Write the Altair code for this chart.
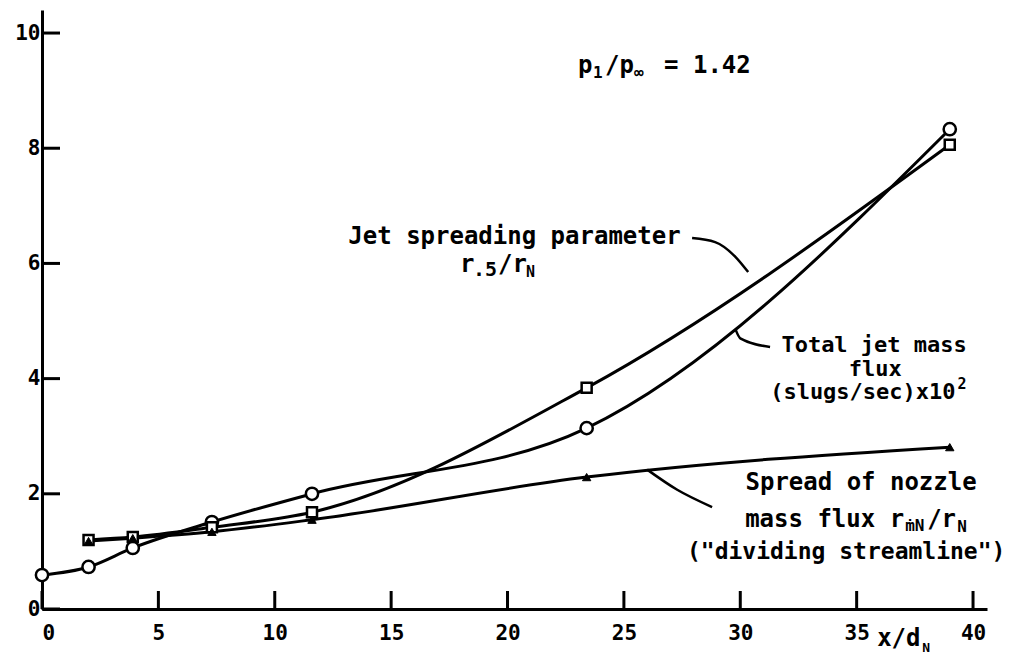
import altair as alt
import pandas as pd

# ---- data ----
circle_x = [0, 2, 3.9, 7.3, 11.6, 23.4, 39]           # total jet mass flux
circle_y = [0.59, 0.73, 1.06, 1.51, 2.0, 3.14, 8.33]
square_x = [2, 3.9, 7.3, 11.6, 23.4, 39]               # jet spreading parameter
square_y = [1.2, 1.25, 1.42, 1.68, 3.84, 8.06]
tri_x = [2, 3.9, 7.3, 11.6, 23.4, 39]                  # spread of nozzle mass flux
tri_y = [1.18, 1.23, 1.34, 1.55, 2.29, 2.81]
x_ticks = [0, 5, 10, 15, 20, 25, 30, 35, 40]
y_ticks = [0, 2, 4, 6, 8, 10]

# leader lines of the annotations
lead1_x = [27.93, 28.92, 29.78, 30.34]
lead1_y = [6.44, 6.37, 6.12, 5.85]
lead2_x = [29.8, 30.0, 31.28]
lead2_y = [4.85, 4.70, 4.55]
lead3_x = [26.0, 27.29, 28.79]
lead3_y = [2.42, 2.07, 1.77]

W, H = 945, 599
FONT = "DejaVu Sans Mono"
xscale = alt.Scale(domain=[0, 40.6], nice=False, zero=False)
yscale = alt.Scale(domain=[0, 10.4], nice=False, zero=False)

X = alt.X("x:Q", scale=xscale, title=None, axis=alt.Axis(values=x_ticks, format="d"))
Y = alt.Y("y:Q", scale=yscale, title=None, axis=alt.Axis(values=y_ticks, format="d"))

lines_df = pd.concat([
    pd.DataFrame({"x": circle_x, "y": circle_y, "s": "mass"}),
    pd.DataFrame({"x": square_x, "y": square_y, "s": "spread"}),
    pd.DataFrame({"x": tri_x, "y": tri_y, "s": "nozzle"}),
])

lines = alt.Chart(lines_df).mark_line(
    interpolate="monotone", color="black", strokeWidth=3
).encode(x=X, y=Y, detail="s:N")

circles = alt.Chart(pd.DataFrame({"x": circle_x, "y": circle_y})).mark_point(
    shape="circle", filled=True, fill="white", stroke="black", strokeWidth=2.5, size=150, opacity=1
).encode(x=X, y=Y)
squares = alt.Chart(pd.DataFrame({"x": square_x, "y": square_y})).mark_point(
    shape="square", filled=True, fill="white", stroke="black", strokeWidth=2.5, size=100, opacity=1
).encode(x=X, y=Y)
tris = alt.Chart(pd.DataFrame({"x": tri_x, "y": tri_y})).mark_point(
    shape="triangle-up", filled=True, fill="black", stroke="black", strokeWidth=1, size=70, opacity=1
).encode(x=X, y=Y)

xt = alt.Chart(pd.DataFrame({"t": x_ticks})).mark_rule(color="black", strokeWidth=3).encode(
    x=alt.X("t:Q", scale=xscale, title=None), y=alt.value(H), y2=alt.value(H - 18))
yt = alt.Chart(pd.DataFrame({"t": y_ticks})).mark_rule(color="black", strokeWidth=3).encode(
    y=alt.Y("t:Q", scale=yscale, title=None), x=alt.value(0), x2=alt.value(18))


def leader(xs, ys):
    return alt.Chart(pd.DataFrame({"x": xs, "y": ys})).mark_line(
        interpolate="monotone", color="black", strokeWidth=2.5).encode(x=X, y=Y)


def txt(s, x, y, size=24, align="center", dx=0, dy=0):
    return alt.Chart(pd.DataFrame({"a": [0]})).mark_text(
        text=s, font=FONT, fontSize=size, fontWeight="bold", align=align,
        baseline="middle", dx=dx, dy=dy, color="black"
    ).encode(x=alt.datum(x), y=alt.datum(y))


texts = [
    # p1/p_inf = 1.42
    txt("p", 23.03, 9.43, align="left", dx=0),
    txt("1", 23.03, 9.43, size=16, align="left", dx=15, dy=7),
    txt("/p", 23.03, 9.43, align="left", dx=27),
    txt("\u221e", 23.03, 9.43, size=16, align="left", dx=56, dy=7),
    txt("= 1.42", 23.03, 9.43, align="left", dx=86),
    # jet spreading parameter
    txt("Jet spreading parameter", 20.30, 6.46),
    txt("r", 17.96, 5.97, align="left", dx=0),
    txt(".5", 17.96, 5.97, size=20, align="left", dx=13, dy=5),
    txt("/r", 17.96, 5.97, align="left", dx=38),
    txt("N", 17.96, 5.97, size=15, align="left", dx=66, dy=7),
    # total jet mass flux
    txt("Total jet mass", 35.75, 4.58, size=22),
    txt("flux", 35.8, 4.17, size=22),
    txt("(slugs/sec)x10", 39.25, 3.76, size=22, align="right"),
    txt("2", 39.25, 3.76, size=15, align="left", dx=2, dy=-8),
    # spread of nozzle mass flux
    txt("Spread of nozzle", 35.19, 2.19),
    txt("mass flux r", 30.21, 1.545, align="left"),
    txt("\u1e41N", 30.21, 1.545, size=16, align="left", dx=160, dy=6),
    txt("/r", 30.21, 1.545, align="left", dx=182),
    txt("N", 30.21, 1.545, size=16, align="left", dx=212, dy=7),
    txt('("dividing streamline")', 34.55, 0.99, size=23),
    # axis label
    txt("x/d", 35.88, -0.52, align="left"),
    txt("N", 35.88, -0.52, size=13, align="left", dx=45, dy=9),
]

chart = alt.layer(
    lines, leader(lead1_x, lead1_y), leader(lead2_x, lead2_y), leader(lead3_x, lead3_y),
    circles, squares, tris, xt, yt, *texts
).properties(
    width=W, height=H,
    autosize=alt.AutoSizeParams(type="none"),
    padding={"left": 34, "top": 2, "right": 22, "bottom": 48},
    background="white",
).configure_view(stroke=None).configure_axis(
    domainColor="black", domainWidth=3, ticks=False, tickSize=0, grid=False,
    labelFont=FONT, labelFontSize=21, labelFontWeight="bold", labelColor="black",
).configure_axisX(labelPadding=13).configure_axisY(labelPadding=2)

chart.save("out.html", embed_options={"renderer": "svg", "actions": False})
